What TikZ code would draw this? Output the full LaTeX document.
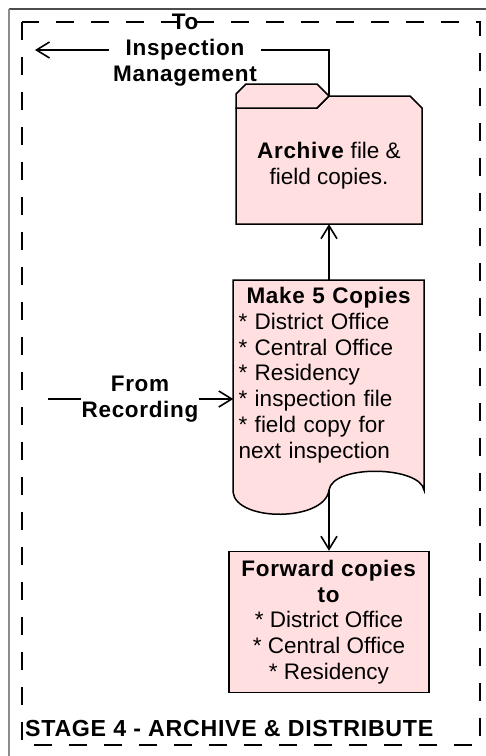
\documentclass[tikz,border=0pt]{standalone}
\usepackage{fontspec}
\setmainfont{Liberation Sans}[BoldFeatures={LetterSpace=3}]
\usetikzlibrary{arrows.meta}
\definecolor{boxpink}{HTML}{FFDFDF}

\begin{document}
\begin{tikzpicture}[x=1pt,y=-1pt,
  txt/.style={font=\fontsize{22.5}{25.8}\selectfont,inner sep=0pt},
  lbl/.style={font=\fontsize{22.5}{25.8}\selectfont\bfseries,inner sep=0pt},
  paper/.style={draw,line width=1.5pt,fill=boxpink},
  conn/.style={line width=1.4pt},
  >={Straight Barb[length=13pt,width=16pt,line width=1.6pt]}]
\useasboundingbox (0,0) rectangle (486,756);
% page edges and the stage frame
\draw[line width=1.5pt,black!70] (9,9) -- (486,9);
\draw[line width=1.5pt,black!45] (9,9) -- (9,756);
\draw[line width=1.3pt,dash pattern=on 18pt off 17pt] (22,22) rectangle (480,745);
% folder
\draw[paper] (236,108) -- (317,108) -- (329,96) -- (410,96) -- (422,108) -- (422,224) -- (236,224) -- cycle;
\draw[paper] (236,108) -- (236,94) -- (246,84) -- (317,84) -- (329,96) -- (317,108) -- cycle;
\coordinate (tabtip) at (329,96);
\node[txt,align=center,minimum width=186pt,minimum height=116pt] (archive) at (329,166) {\textbf{Archive} file \&\\field copies.};
% document with wavy bottom
\draw[paper] (233,280) -- (424,280) -- (424,490) .. controls (420,466) and (333,464) .. (329,490) .. controls (325,522) and (236,522) .. (233,492) -- cycle;
\coordinate (wavemid) at (329,490);
\node[txt,text width=181pt,inner xsep=5pt,align=left,minimum height=190pt] (copies) at (329,375) {\hfill\textbf{Make 5 Copies}\hfill\null\\{*} District Office\\{*} Central Office\\{*} Residency\\{*} inspection file\\{*} field copy for\\next inspection};
\node[txt,paper,align=center,minimum width=200pt,minimum height=141pt] (fwd) at (329,622) {\textbf{Forward copies}\\\textbf{to}\\{*} District Office\\{*} Central Office\\{*} Residency};
% labels
\node[lbl,align=center,inner xsep=4pt] (toim) at (185,50) {To\\Inspection\\Management};
\node[lbl,align=center] (from) at (140,399) {From\\Recording};
\node[lbl,font=\fontsize{23.2}{26}\selectfont\bfseries,anchor=base west] (stage) at (25,736) {STAGE 4 - ARCHIVE \& DISTRIBUTE};
\coordinate (imout) at (35,50);
\coordinate (recin) at (48,399);
% connectors
\draw[conn] (tabtip) |- (toim.east);
\draw[conn,->] (toim.west) -- (toim.west -| imout);
\draw[conn] (from.west -| recin) -- (from.west);
\draw[conn,->] (from.east) -- (from.east -| copies.west);
\draw[conn,->] (copies.north) -- (archive.south);
\draw[conn,->] (wavemid) -- (fwd.north);
\end{tikzpicture}
\end{document}
